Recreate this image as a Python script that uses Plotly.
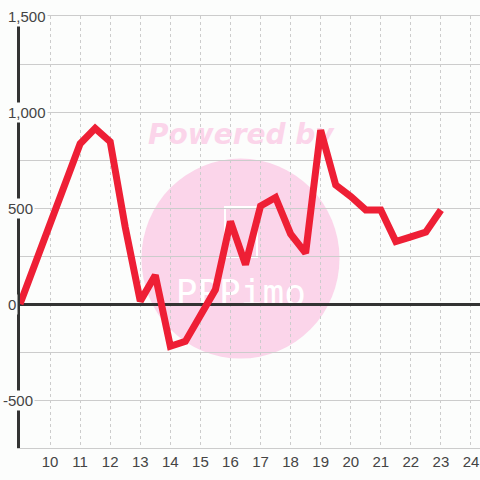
import plotly.graph_objects as go

# Data
x_vals = [9, 9.5, 10, 10.5, 11, 11.5, 12, 12.5, 13, 13.5, 14, 14.5, 15, 15.5,
          16, 16.5, 17, 17.5, 18, 18.5, 19, 19.5, 20, 20.5, 21, 21.5, 22, 22.5, 23]
y_vals = [0, 210, 420, 625, 835, 915, 845, 400, 15, 150, -220, -195, -60, 75,
          430, 205, 510, 555, 365, 265, 905, 620, 560, 490, 490, 325, 350, 375, 490]
x_ticks = list(range(10, 25))
y_label_vals = [1500, 1000, 500, 0, -500]
y_label_text = ["1,500", "1,000", "500", "0", "-500"]

BG = "#FCFDFC"
PINK = "#FBD5EA"

fig = go.Figure()
fig.add_trace(go.Scatter(
    x=x_vals, y=y_vals, mode="lines",
    line=dict(color="#EE1F35", width=7),
    hoverinfo="skip", showlegend=False,
))

# watermark (below gridlines)
shapes = [
    dict(type="circle", xref="paper", yref="paper",
         x0=0.264, x1=0.6946, y0=0.207, y1=0.670,
         fillcolor=PINK, line=dict(width=0), layer="below"),
    dict(type="rect", xref="paper", yref="paper",
         x0=0.4457, x1=0.5152, y0=0.442, y1=0.558,
         line=dict(color="white", width=2), layer="below"),
    dict(type="rect", xref="paper", yref="paper",
         x0=0.22, x1=0.74, y0=0.70, y1=0.76,
         line=dict(width=0), layer="below",
         label=dict(text="Powered by",
                    font=dict(family="DejaVu Sans", size=28, color=PINK,
                              weight="bold", style="italic"))),
    dict(type="rect", xref="paper", yref="paper",
         x0=0.30, x1=0.66, y0=0.317, y1=0.417,
         line=dict(width=0), layer="below",
         label=dict(text="PPPimo",
                    font=dict(family="DejaVu Sans Mono", size=36, color="white"))),
]

annotations = []
for v, t in zip(y_label_vals, y_label_text):
    annotations.append(dict(
        x=0, xref="paper", y=v, yref="y", text=t, showarrow=False,
        xanchor="left", yanchor="middle", xshift=-14 if v >= 0 else -19,
        font=dict(family="Liberation Sans, Arial", size=15, color="#444"),
        bgcolor=BG, borderpad=1,
    ))

fig.update_layout(
    width=480, height=480,
    margin=dict(l=20, r=0, t=16, b=32),
    paper_bgcolor=BG, plot_bgcolor=BG,
    shapes=shapes, annotations=annotations,
    showlegend=False,
    xaxis=dict(
        range=[9, 24.3], tickvals=x_ticks, ticktext=[str(v) for v in x_ticks],
        showgrid=True, gridcolor="#CCCCCC", gridwidth=1, griddash="3px,3px",
        zeroline=False, ticks="", showline=True, linecolor="#CCCCCC",
        linewidth=1, mirror=True,
        tickfont=dict(family="Liberation Sans, Arial", size=15, color="#444"),
    ),
    yaxis=dict(
        range=[-750, 1500], dtick=250, tick0=0, showticklabels=False,
        showgrid=True, gridcolor="#CCCCCC", gridwidth=1,
        zeroline=True, zerolinecolor="#333333", zerolinewidth=3,
        showline=True, linecolor="#333333", linewidth=3, ticks="",
    ),
)

fig.write_html(
    "out.html",
    config={"displayModeBar": False},
    post_script="document.body.style.margin='0';document.body.style.background='" + BG + "';",
)
